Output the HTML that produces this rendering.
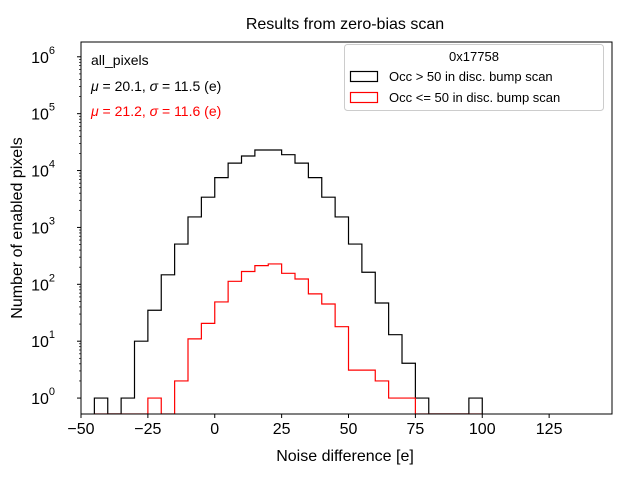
<!DOCTYPE html>
<html><head><meta charset="utf-8"><style>
html,body{margin:0;padding:0;background:#fff}
svg{display:block;font-family:"Liberation Sans","DejaVu Sans",sans-serif}
</style></head><body>
<svg id="chart" width="640" height="480" xmlns="http://www.w3.org/2000/svg"></svg>
<script>
const binStart = -45;
const binWidth = 5;
const blackCounts = [1,0,1,10,35,147,510,1530,3400,7500,13500,18000,23000,23000,19000,13500,7500,3400,1530,510,163,47,13,4.1,1,0,0,0,1];
const redCounts = [0,0,0,0,1,0,2,11,20.6,49,113,168,213,228,156,124,68,45,18,3.1,3.1,2,1,1,0,0,0,0,0];
const xTicks = [-50,-25,0,25,50,75,100,125];
const yTickExp = [0,1,2,3,4,5,6];
const NS="http://www.w3.org/2000/svg";
const svg=document.getElementById('chart');
const L=81,R=612,T=42,B=414;
const xmin=-50,xmax=148.5,ymin=-0.28,ymax=6.26;
const xs=v=>L+(v-xmin)/(xmax-xmin)*(R-L);
const ys=v=>{const lv=v<=0?ymin-1:Math.log10(v);return Math.min(B,B-(lv-ymin)/(ymax-ymin)*(B-T));};
function mk(tag,attrs,parent){const e=document.createElementNS(NS,tag);for(const k in attrs)e.setAttribute(k,attrs[k]);(parent||svg).appendChild(e);return e;}
const clip=mk('clipPath',{id:'pc'});mk('rect',{x:L,y:T,width:R-L,height:B-T},clip);
function hist(counts,color,name){
  let d='';
  counts.forEach((c,i)=>{const x0=xs(binStart+i*binWidth),x1=xs(binStart+(i+1)*binWidth),y=ys(c);
    d+=(i===0?'M'+x0+','+B+'L'+x0+','+y:'L'+x0+','+y)+'L'+x1+','+y;});
  d+='L'+xs(binStart+counts.length*binWidth)+','+B;
  const p=mk('path',{d:d,fill:'none',stroke:color,'stroke-width':1.2,'clip-path':'url(#pc)'});
  
  
}
hist(blackCounts,'#000','histogram-occ-gt-50');
hist(redCounts,'#f00','histogram-occ-le-50');
mk('rect',{x:L,y:T,width:R-L,height:B-T,fill:'none',stroke:'#000','stroke-width':1});
xTicks.forEach(t=>{const x=xs(t);mk('line',{x1:x,x2:x,y1:B,y2:B+4,stroke:'#000'});
  const tx=mk('text',{x:x,y:B+20,'text-anchor':'middle','font-size':16});tx.textContent=(t<0?'\u2212'+(-t):t);
  });
yTickExp.forEach(e=>{const y=ys(Math.pow(10,e));mk('line',{x1:L-4,x2:L,y1:y,y2:y,stroke:'#000'});
  for(let m=2;m<10;m++){const yy=ys(m*Math.pow(10,e));if(yy>T&&yy<B)mk('line',{x1:L-2,x2:L,y1:yy,y2:yy,stroke:'#000','stroke-width':0.7});}
  const tx=mk('text',{x:L-26,y:y+6,'text-anchor':'end','font-size':16});tx.textContent='10';
  const s=mk('tspan',{dy:-9,'font-size':11},tx);s.textContent=e;
  });
</script>
<div style="position:absolute;left:0;top:0;width:640px;height:480px;pointer-events:none">
<svg width="640" height="480" xmlns="http://www.w3.org/2000/svg" style="font-family:'Liberation Sans','DejaVu Sans',sans-serif">
<text x="345" y="29" text-anchor="middle" font-size="16">Results from zero-bias scan</text>
<text x="345" y="461" text-anchor="middle" font-size="16">Noise difference [e]</text>
<text transform="translate(22,228) rotate(-90)" text-anchor="middle" font-size="16">Number of enabled pixels</text>
<text x="91" y="65" font-size="14">all_pixels</text>
<text x="91" y="91" font-size="14"><tspan font-style="italic">μ</tspan> = 20.1, <tspan font-style="italic">σ</tspan> = 11.5 (e)</text>
<text x="91" y="116" font-size="14" fill="#f00"><tspan font-style="italic">μ</tspan> = 21.2, <tspan font-style="italic">σ</tspan> = 11.6 (e)</text>
<g>
<rect x="344.5" y="44.5" width="259" height="66" rx="3" fill="#fff" fill-opacity="0.8" stroke="#ccc"/>
<text x="474" y="61" text-anchor="middle" font-size="13">0x17758</text>
<rect x="350.5" y="71.5" width="27" height="10" fill="none" stroke="#000" stroke-width="1.2"/>
<text x="389" y="81" font-size="13">Occ &gt; 50 in disc. bump scan</text>
<rect x="350.5" y="92.5" width="27" height="10" fill="none" stroke="#f00" stroke-width="1.2"/>
<text x="389" y="102" font-size="13">Occ &lt;= 50 in disc. bump scan</text>
</g>
</svg></div>
</body></html>
